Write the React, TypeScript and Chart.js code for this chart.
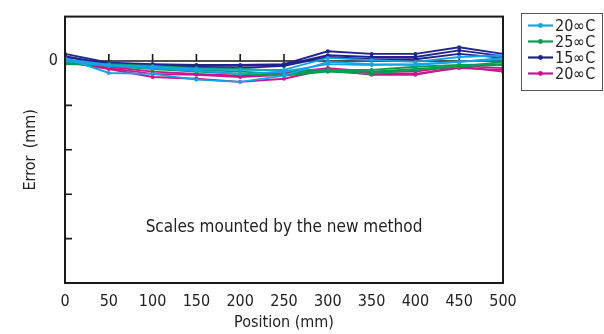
import React, { useEffect, useRef } from "react";
import { Chart, registerables } from "chart.js";

Chart.register(...registerables);

const FONT = "'Liberation Sans Narrow', 'DejaVu Sans Condensed', 'Noto Sans', sans-serif";

// Positions along the scale (mm)
const positions = [0, 50, 100, 150, 200, 250, 300, 350, 400, 450, 500];

// Y axis ticks (only 0 is labelled)
const yTicks = [10, 0, -10, -20, -30, -40, -50];
const yLabelled = ["0"];

const legendLabels = ["20\u221EC", "25\u221EC", "15\u221EC", "20\u221EC"];
const seriesColors = ["#12a4e6", "#00a04e", "#22248c", "#c8168e"];

// Light blue (20°C) runs
const blueA = [0.7, -2.7, -2.9, -4.2, -4.7, -3.3, -0.2, -0.7, -0.9, -0.2, 0.7];
const blueB = [0.4, -0.9, -1.3, -1.8, -2.0, -2.0, 0.7, 0.2, -0.2, 0.9, 1.3];
const blueC = [0, -1.1, -1.6, -2.2, -2.9, -2.4, -0.7, -0.9, -0.7, -0.2, 0.4];

// Green (25°C) runs
const greenA = [-0.7, -0.9, -1.6, -2.0, -2.4, -2.9, -2.2, -2.4, -1.8, -1.3, -0.2];
const greenB = [-0.2, -0.7, -1.1, -1.6, -1.8, -2.2, -2.0, -2.0, -1.3, -0.9, -0.7];
const greenC = [-0.4, -1.1, -1.8, -2.4, -2.9, -3.3, -2.4, -2.9, -2.0, -1.1, -0.9];

// Navy (15°C) runs
const navyA = [1.6, -0.4, -0.7, -0.9, -0.9, -0.7, 2.2, 1.6, 1.6, 3.1, 1.6];
const navyB = [1.1, -0.7, -0.9, -1.1, -1.1, -0.9, 1.3, 0.9, 0.9, 2.4, 1.1];
const navyC = [0.9, -0.7, -1.1, -1.3, -1.6, -1.1, 0.9, 0.4, 0.4, 1.6, 0.7];

// Magenta (20°C) runs
const magentaA = [-0.2, -1.6, -2.9, -3.1, -3.6, -3.1, -2.0, -3.1, -3.1, -1.3, -2.4];
const magentaB = [-0.2, -1.8, -3.6, -4.0, -4.7, -4.0, -1.8, -2.7, -2.9, -1.6, -2.0];
const magentaC = [0, -1.3, -2.4, -2.9, -3.3, -2.7, -1.6, -2.4, -2.4, -1.1, -1.6];

const seriesGroups = [
  [blueA, blueB, blueC],
  [greenA, greenB, greenC],
  [navyA, navyB, navyC],
  [magentaA, magentaB, magentaC],
];

const annotation = "Scales mounted by the new method";

const decorPlugin = {
  id: "decor",
  beforeDatasetsDraw(chart: any) {
    const { ctx, chartArea } = chart;
    const xs = chart.scales.x;
    const ys = chart.scales.y;
    const y0 = ys.getPixelForValue(0);
    ctx.save();
    ctx.strokeStyle = "#1a1a1a";
    ctx.lineWidth = 1.6;
    ctx.beginPath();
    ctx.moveTo(chartArea.left, y0);
    ctx.lineTo(chartArea.right, y0);
    positions.forEach((p) => {
      if (p === positions[0] || p === positions[positions.length - 1]) return;
      const px = xs.getPixelForValue(p);
      ctx.moveTo(px, y0);
      ctx.lineTo(px, y0 - 7);
    });
    yTicks.forEach((t) => {
      if (t === 0 || t === yTicks[0] || t === yTicks[yTicks.length - 1]) return;
      const py = ys.getPixelForValue(t);
      ctx.moveTo(chartArea.left, py);
      ctx.lineTo(chartArea.left + 7, py);
    });
    ctx.stroke();
    ctx.restore();
  },
  afterDraw(chart: any) {
    const { ctx, chartArea } = chart;
    const xs = chart.scales.x;
    const ys = chart.scales.y;
    ctx.save();
    // frame
    ctx.strokeStyle = "#1a1a1a";
    ctx.lineWidth = 2;
    ctx.strokeRect(chartArea.left, chartArea.top, chartArea.right - chartArea.left, chartArea.bottom - chartArea.top);
    // annotation
    ctx.fillStyle = "#222";
    ctx.font = `17px ${FONT}`;
    ctx.textAlign = "center";
    ctx.textBaseline = "middle";
    ctx.fillText(annotation, xs.getPixelForValue(250), ys.getPixelForValue(-37.5));
    // legend
    const bx = 521, by = 13, bw = 81, bh = 77;
    ctx.strokeStyle = "#555";
    ctx.lineWidth = 1;
    ctx.strokeRect(bx + 0.5, by + 0.5, bw, bh);
    ctx.font = `16px ${FONT}`;
    ctx.textAlign = "left";
    legendLabels.forEach((lab, i) => {
      const cy = by + 12.5 + i * 16;
      ctx.strokeStyle = seriesColors[i];
      ctx.lineWidth = 2.2;
      ctx.beginPath();
      ctx.moveTo(bx + 7, cy);
      ctx.lineTo(bx + 32, cy);
      ctx.stroke();
      ctx.fillStyle = seriesColors[i];
      ctx.beginPath();
      ctx.arc(bx + 19.5, cy, 2.4, 0, Math.PI * 2);
      ctx.fill();
      ctx.fillStyle = "#222";
      ctx.fillText(lab, bx + 34, cy + 1);
    });
    ctx.restore();
  },
};

export default function App() {
  const ref = useRef<HTMLCanvasElement>(null);
  useEffect(() => {
    document.body.style.margin = "0";
    const datasets: any[] = [];
    seriesGroups.forEach((group, gi) => {
      group.forEach((vals, ri) => {
        datasets.push({
          label: legendLabels[gi] + "-" + ri,
          data: positions.map((p, k) => ({ x: p, y: vals[k] })),
          borderColor: seriesColors[gi],
          backgroundColor: seriesColors[gi],
          borderWidth: 1.9,
          pointRadius: 2,
          pointBorderWidth: 0,
          tension: 0,
          fill: false,
        });
      });
    });
    const chart = new Chart(ref.current!, {
      type: "line",
      data: { datasets },
      options: {
        animation: false,
        responsive: false,
        layout: { padding: { top: 14, right: 101, left: 0, bottom: 0 } },
        plugins: { legend: { display: false }, tooltip: { enabled: false } },
        scales: {
          x: {
            type: "linear",
            min: 0,
            max: 500,
            grid: { display: false, drawTicks: false },
            border: { display: false },
            ticks: {
              stepSize: 50,
              autoSkip: false,
              maxRotation: 0,
              padding: 9,
              color: "#222",
              font: { family: FONT, size: 16 },
            },
            title: {
              display: true,
              text: "Position (mm)",
              color: "#222",
              font: { family: FONT, size: 16 },
              padding: { top: 0, bottom: 2 },
            },
            afterFit(scale: any) {
              scale.height = 51;
            },
          },
          y: {
            min: -50,
            max: 10,
            grid: { display: false, drawTicks: false },
            border: { display: false },
            ticks: {
              stepSize: 10,
              padding: 7,
              color: "#222",
              font: { family: FONT, size: 16 },
              callback: (v: any) => (yLabelled.includes(String(v)) ? String(v) : ""),
            },
            title: {
              display: true,
              text: "Error\u2002(mm)",
              color: "#222",
              font: { family: FONT, size: 16 },
              padding: { top: 21, bottom: 0 },
            },
            afterFit(scale: any) {
              scale.width = 65;
            },
          },
        },
      },
      plugins: [decorPlugin],
    });
    return () => chart.destroy();
  }, []);
  return (
    <div style={{ width: 604, height: 334, background: "#fff" }}>
      <canvas ref={ref} width={604} height={334} />
    </div>
  );
}
